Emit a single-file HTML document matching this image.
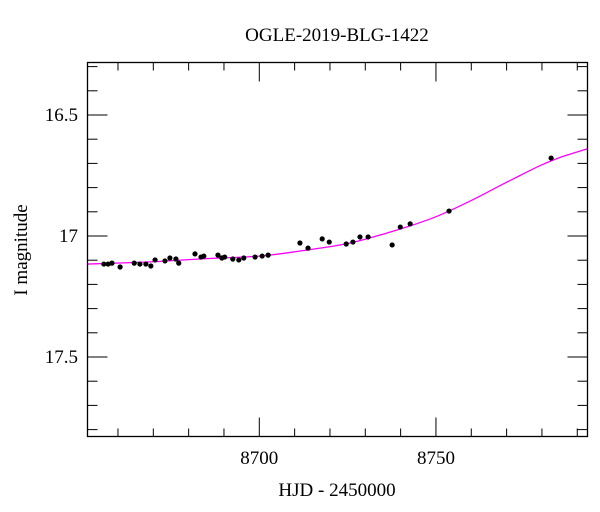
<!DOCTYPE html>
<html><head><meta charset="utf-8">
<style>
html,body{margin:0;padding:0;background:#fff;}
svg{display:block;font-family:"Liberation Serif",serif;}
</style></head>
<body>
<svg id="chart" width="600" height="512" viewBox="0 0 600 512">
<text x="337" y="41" font-size="19" text-anchor="middle">OGLE-2019-BLG-1422</text>
<text x="337" y="496" font-size="19" text-anchor="middle">HJD - 2450000</text>
<text transform="translate(27,250) rotate(-90)" font-size="19" text-anchor="middle">I magnitude</text>
<g id="ticks"></g>
<g id="curve"></g>
<g id="pts"></g>
<rect x="87.5" y="62.5" width="500" height="374" fill="none" stroke="#000" stroke-width="1.3"/>
</svg>
<script>
const obsDays=[8656.0,8657.2,8658.3,8660.6,8664.6,8666.2,8667.9,8669.3,8670.5,8673.3,8674.7,8676.4,8677.2,8681.8,8683.5,8684.3,8688.3,8689.4,8690.2,8692.5,8694.2,8695.6,8698.8,8700.8,8702.5,8711.5,8713.8,8717.8,8719.8,8724.6,8726.5,8728.5,8730.8,8737.6,8739.9,8742.7,8753.7,8782.6];
const obsMags=[17.116,17.116,17.112,17.128,17.112,17.116,17.116,17.124,17.099,17.103,17.091,17.095,17.112,17.074,17.087,17.083,17.079,17.091,17.087,17.095,17.099,17.091,17.087,17.083,17.079,17.029,17.050,17.012,17.025,17.033,17.025,17.004,17.004,17.037,16.963,16.950,16.897,16.678];
const obsErr=[0.005,0.005,0.005,0.006,0.005,0.005,0.005,0.006,0.006,0.006,0.006,0.006,0.007,0.007,0.006,0.006,0.006,0.006,0.006,0.006,0.006,0.006,0.005,0.005,0.005,0.008,0.006,0.006,0.005,0.005,0.005,0.005,0.005,0.008,0.007,0.006,0.005,0.004];
const modelDays=[8651.3,8669.1,8683.2,8700.0,8711.5,8725.7,8739.9,8748.3,8754.0,8762.5,8768.1,8773.8,8779.5,8785.2,8792.8];
const modelMags=[17.116,17.107,17.095,17.083,17.062,17.029,16.971,16.930,16.895,16.835,16.792,16.750,16.709,16.675,16.640];
const xTicks=[8660,8670,8680,8690,8700,8710,8720,8730,8740,8750,8760,8770,8780,8790];
const xLabels=[8700,8750];
const yTicks=[16.3,16.4,16.5,16.6,16.7,16.8,16.9,17.0,17.1,17.2,17.3,17.4,17.5,17.6,17.7,17.8];
const yLabels=[16.5,17,17.5];

const L=87.5,R=587.5,T=62.5,B=436.5;
const xs=d=>259.3+(d-8700)*3.533;
const ys=m=>236+(m-17)*242;
const NS='http://www.w3.org/2000/svg';
function mk(tag,attrs,parent){const e=document.createElementNS(NS,tag);for(const k in attrs)e.setAttribute(k,attrs[k]);parent.appendChild(e);return e;}
const tg=document.getElementById('ticks');
xTicks.forEach(d=>{
  const major=d%50===0;const len=major?19:8;const x=xs(d);
  const t=mk('line',{x1:x,x2:x,y1:B,y2:B-len,stroke:'#000','stroke-width':1},tg);
  
  
  const t2=mk('line',{x1:x,x2:x,y1:T,y2:T+len,stroke:'#000','stroke-width':1},tg);
  
  
});
xLabels.forEach(d=>{
  const t=mk('text',{x:xs(d),y:464,'font-size':19,'text-anchor':'middle'},tg);t.textContent=d;
  
  
});
yTicks.forEach(m=>{
  const major=Math.abs(m*2-Math.round(m*2))<1e-6;const len=major?20:10;const y=ys(m);
  const t=mk('line',{x1:L,x2:L+len,y1:y,y2:y,stroke:'#000','stroke-width':1},tg);
  
  
  const t2=mk('line',{x1:R,x2:R-len,y1:y,y2:y,stroke:'#000','stroke-width':1},tg);
  
  
});
yLabels.forEach(m=>{
  const t=mk('text',{x:78,y:ys(m)+6,'font-size':19,'text-anchor':'end'},tg);t.textContent=String(m);
  
  
});
const P=modelDays.map((d,i)=>[xs(d),ys(modelMags[i])]);
let dstr='M'+P[0][0]+','+P[0][1];
for(let i=0;i<P.length-1;i++){
  const p0=P[Math.max(0,i-1)],p1=P[i],p2=P[i+1],p3=P[Math.min(P.length-1,i+2)];
  const c1=[p1[0]+(p2[0]-p0[0])/6,p1[1]+(p2[1]-p0[1])/6];
  const c2=[p2[0]-(p3[0]-p1[0])/6,p2[1]-(p3[1]-p1[1])/6];
  dstr+=' C'+c1+' '+c2+' '+p2;
}
const cv=mk('path',{d:dstr,fill:'none',stroke:'#ff00ff','stroke-width':1.3},document.getElementById('curve'));


const pg=document.getElementById('pts');
obsDays.forEach((d,i)=>{
  const x=xs(d),y=ys(obsMags[i]),e=obsErr[i]*242;
  const b=mk('line',{x1:x,x2:x,y1:y-e,y2:y+e,stroke:'#000','stroke-width':1},pg);
  
  
  const c=mk('circle',{cx:x,cy:y,r:2.6,fill:'#000'},pg);
  
  
});
</script>
</body></html>
